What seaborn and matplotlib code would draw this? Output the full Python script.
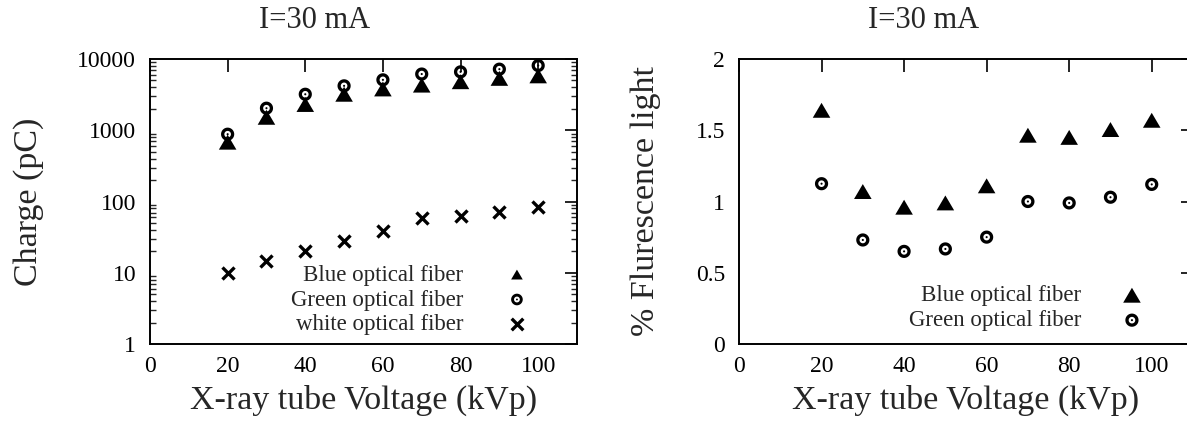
import numpy as np
import pandas as pd
import matplotlib
matplotlib.use("Agg")
import matplotlib.pyplot as plt
from matplotlib.path import Path
from matplotlib import ticker
import seaborn as sns

# X-ray tube voltage (kVp)
kvp = [20, 30, 40, 50, 60, 70, 80, 90, 100]

# Collected charge (pC) at I = 30 mA
charge_blue = [680, 1520, 2300, 3200, 3800, 4300, 4800, 5350, 5800]
charge_green = [880, 2040, 3200, 4200, 5100, 6150, 6600, 7200, 8100]
charge_white = [10, 14.5, 20, 27.5, 38, 58, 63, 72, 85]

# Fluorescence light fraction (%) at I = 30 mA
fluo_blue = [1.64, 1.07, 0.96, 0.99, 1.11, 1.465, 1.45, 1.505, 1.57]
fluo_green = [1.125, 0.73, 0.65, 0.667, 0.75, 1.0, 0.99, 1.03, 1.12]

title_text = "I=30 mA"
xlabel_text = "X-ray tube Voltage (kVp)"
left_ylabel = "Charge (pC)"
right_ylabel = "% Flurescence light"
x_ticks = [0, 20, 40, 60, 80, 100]
left_y_ticks = [1, 10, 100, 1000, 10000]
right_y_ticks = [0, 0.5, 1, 1.5, 2]

sns.set_style("white")
plt.rcParams["font.family"] = ["Liberation Serif", "DejaVu Serif"]

# Marker shapes: wide filled triangle, ring with centre dot
tri_marker = Path([(-1, -0.85), (1, -0.85), (0, 0.85), (-1, -0.85)],
                  [Path.MOVETO, Path.LINETO, Path.LINETO, Path.CLOSEPOLY])
th = np.linspace(0, 2 * np.pi, 72)
outer = Path(np.c_[np.cos(th), np.sin(th)])
inner = Path(np.c_[np.cos(th), -np.sin(th)] * 0.5)
dot = Path(np.c_[np.cos(th), np.sin(th)] * 0.16)
ring_marker = Path.make_compound_path(outer, inner, dot)

fig = plt.figure(figsize=(11.87, 4.23), dpi=100)
ax1 = fig.add_axes([150 / 1187, 1 - 344 / 423, 427 / 1187, 285 / 423])
ax2 = fig.add_axes([739 / 1187, 1 - 344 / 423, 454 / 1187, 285 / 423])

tick_fs = 17
label_fs = 24.5
title_fs = 22
legend_fs = 16.5


def style_axes(ax):
    for sp in ax.spines.values():
        sp.set_linewidth(1.4)
        sp.set_color("black")
    ax.tick_params(which="major", direction="in", length=9, width=1.2,
                   top=True, right=True, labelsize=tick_fs, colors="black")
    ax.tick_params(which="minor", direction="in", length=4.5, width=1.0,
                   left=True, right=True, top=False, bottom=False)
    ax.tick_params(axis="y", which="major", pad=10)
    ax.tick_params(axis="x", which="major", pad=9)
    ax.set_xlim(0, 110)
    ax.set_xticks(x_ticks)
    ax.set_xlabel(xlabel_text, fontsize=label_fs, labelpad=5)
    ax.grid(False)


# Left panel: charge, log scale
sns.scatterplot(x=kvp, y=charge_blue, marker=tri_marker, s=160, color="black",
                edgecolor="none", label="Blue optical fiber", ax=ax1, zorder=3)
sns.scatterplot(x=kvp, y=charge_green, marker=ring_marker, s=90, color="black",
                edgecolor="none", label="Green optical fiber", ax=ax1, zorder=4)
sns.scatterplot(x=kvp, y=charge_white, marker="x", s=75, color="black",
                linewidth=2.4, label="white optical fiber", ax=ax1, zorder=3)
ax1.set_yscale("log")
ax1.set_ylim(1, 10000)
ax1.yaxis.set_major_locator(ticker.FixedLocator(left_y_ticks))
ax1.yaxis.set_major_formatter(ticker.FuncFormatter(lambda v, _: f"{v:g}"))
ax1.yaxis.set_minor_locator(ticker.LogLocator(base=10, subs=np.arange(2, 10)))
ax1.yaxis.set_minor_formatter(ticker.NullFormatter())
style_axes(ax1)
ax1.set_ylabel(left_ylabel, fontsize=label_fs)
ax1.yaxis.set_label_coords(-0.248, 0.5)
ax1.set_title(title_text, fontsize=title_fs, x=0.386, pad=22)
leg1 = ax1.legend(loc="lower right", bbox_to_anchor=(0.913, 0.03), frameon=False,
                  markerfirst=False, fontsize=legend_fs, handletextpad=1.35,
                  labelspacing=0.17, borderpad=0, borderaxespad=0)
for h in leg1.legend_handles:
    h.set_sizes([70])

# Right panel: fluorescence light fraction
sns.scatterplot(x=kvp, y=fluo_blue, marker=tri_marker, s=160, color="black",
                edgecolor="none", label="Blue optical fiber", ax=ax2, zorder=3)
sns.scatterplot(x=kvp, y=fluo_green, marker=ring_marker, s=90, color="black",
                edgecolor="none", label="Green optical fiber", ax=ax2, zorder=3)
ax2.set_ylim(0, 2)
ax2.set_yticks(right_y_ticks)
ax2.yaxis.set_major_formatter(ticker.FuncFormatter(lambda v, _: f"{v:g}"))
style_axes(ax2)
ax2.set_ylabel(right_ylabel, fontsize=label_fs)
ax2.yaxis.set_label_coords(-0.172, 0.5)
ax2.set_title(title_text, fontsize=title_fs, x=0.406, pad=22)
ax2.legend(loc="lower right", bbox_to_anchor=(0.916, 0.045), frameon=False,
           markerfirst=False, fontsize=legend_fs, handletextpad=1.2,
           labelspacing=0.17, borderpad=0, borderaxespad=0)

fig.savefig("out.png", dpi=100)
